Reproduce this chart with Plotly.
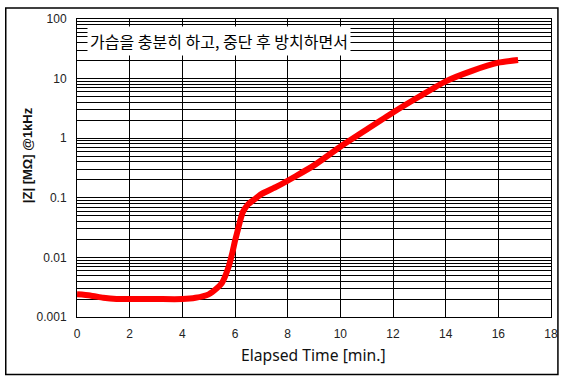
import plotly.graph_objects as go

# Data
elapsed_min = [0, 0.5, 1, 1.5, 2, 3, 4, 4.5, 5, 5.3, 5.5, 5.75, 5.9, 6.0, 6.1, 6.2, 6.3,
               6.5, 6.75, 7.0, 7.6, 8.3, 9, 10, 11, 12, 13, 14, 15, 16, 16.75]
impedance_mohm = [0.0024, 0.0023, 0.0021, 0.0020, 0.0020, 0.0020, 0.0020, 0.0021, 0.0024,
                  0.0030, 0.0037, 0.0068, 0.012, 0.019, 0.028, 0.042, 0.058, 0.078, 0.095,
                  0.115, 0.155, 0.23, 0.35, 0.72, 1.4, 2.7, 5.0, 9.0, 13.5, 18.5, 20.5]

x_ticks = [0, 2, 4, 6, 8, 10, 12, 14, 16, 18]
y_ticks = [0.001, 0.01, 0.1, 1, 10, 100]
y_tick_text = ["0.001", "0.01", "0.1", "1", "10", "100"]
y_minor = [k * 10 ** e for e in range(-3, 2) for k in range(2, 10)]

annotation_text = "가습을 충분히 하고, 중단 후 방치하면서"
x_title = "Elapsed Time [min.]"
y_title = "|Z| [MΩ] @1kHz"

W, H = 570, 381
L, R, T, B = 77, 556, 16, 317
pw, ph = R - L, B - T

def px(x):
    return (x - L) / pw

def py(y):
    return (B - y) / ph

fig = go.Figure()
fig.add_trace(go.Scatter(
    x=elapsed_min, y=impedance_mohm, mode="lines",
    line=dict(color="#ff0000", width=6, shape="spline", smoothing=0.6),
    showlegend=False, hoverinfo="skip",
))

tick_font = dict(family="Liberation Sans", size=12, color="#222222")

fig.update_layout(
    width=W, height=H,
    margin=dict(l=L, r=W - R, t=T, b=H - B, pad=0),
    paper_bgcolor="white", plot_bgcolor="white",
    xaxis=dict(
        range=[0, 18], tickvals=x_ticks, showgrid=True, gridcolor="black", gridwidth=1,
        showline=True, linecolor="black", linewidth=1, mirror=True,
        ticks="outside", ticklen=6, tickcolor="rgba(0,0,0,0)",
        tickfont=tick_font, zeroline=False, fixedrange=True,
    ),
    yaxis=dict(
        type="log", range=[-3, 2], tickvals=y_ticks, ticktext=y_tick_text,
        showgrid=True, gridcolor="black", gridwidth=1,
        minor=dict(tickvals=y_minor, showgrid=True, gridcolor="black", gridwidth=1, ticks=""),
        showline=True, linecolor="black", linewidth=1, mirror=True,
        ticks="outside", ticklen=7, tickcolor="rgba(0,0,0,0)",
        tickfont=tick_font, zeroline=False, fixedrange=True,
    ),
    shapes=[dict(
        type="rect", xref="paper", yref="paper",
        x0=px(5), x1=px(563), y0=py(375), y1=py(5),
        line=dict(color="black", width=1.5), fillcolor="rgba(0,0,0,0)", layer="below",
    )],
    annotations=[
        dict(text=annotation_text, xref="paper", yref="paper",
             x=px(221), y=py(38), xanchor="center", yanchor="middle", showarrow=False,
             bgcolor="white", borderpad=2,
             font=dict(family="Noto Sans CJK KR", size=16, color="#000000")),
        dict(text=x_title, xref="paper", yref="paper",
             x=px(316), y=py(355), xanchor="center", yanchor="middle", showarrow=False,
             font=dict(family="Noto Sans", size=15.7, color="#111111")),
        dict(text="<b>" + y_title + "</b>", xref="paper", yref="paper",
             x=px(27), y=py(154), xanchor="center", yanchor="middle", showarrow=False,
             textangle=-90,
             font=dict(family="Liberation Sans", size=13, color="#111111")),
    ],
)

fig.write_html("out.html", config={"displayModeBar": False},
               post_script="document.body.style.margin='0';document.body.style.overflow='hidden';")
